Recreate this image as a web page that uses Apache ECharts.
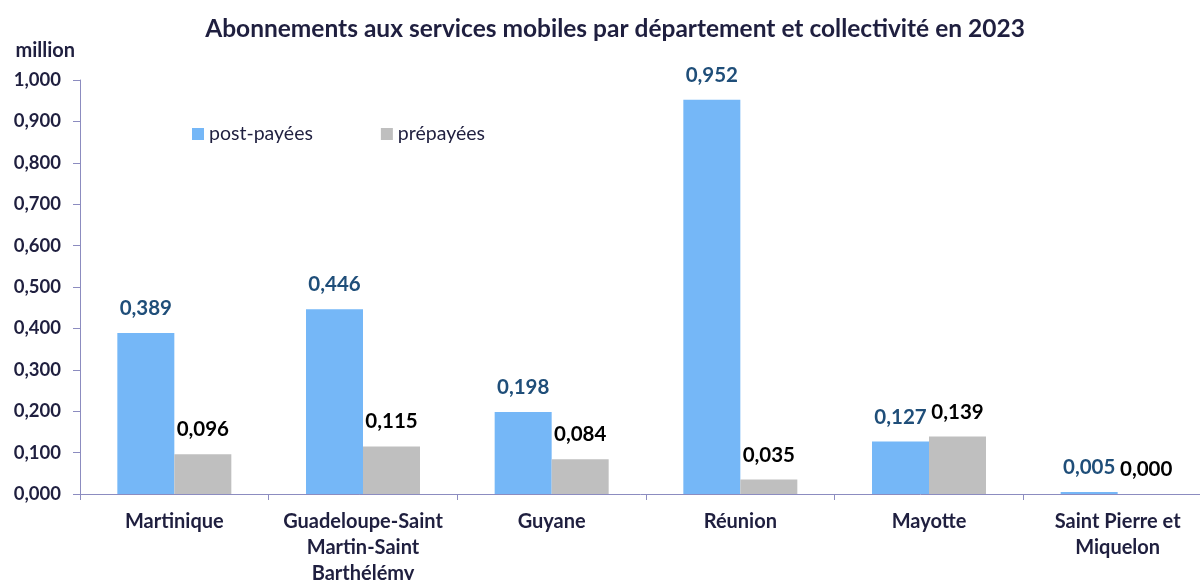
<!DOCTYPE html>
<html><head><meta charset="utf-8">
<script src="https://cdn.jsdelivr.net/npm/echarts@6/dist/echarts.min.js"></script>
<style>html,body{margin:0;padding:0;background:#fff}#c{width:1200px;height:580px}</style>
</head><body><div id="c"></div>
<script>
const categories = ["Martinique", "Guadeloupe-Saint\nMartin-Saint\nBarthélémy", "Guyane", "Réunion", "Mayotte", "Saint Pierre et\nMiquelon"];
const postPayees = [0.389, 0.446, 0.198, 0.952, 0.127, 0.005];
const prepayees = [0.096, 0.115, 0.084, 0.035, 0.139, 0.000];
const seriesNames = ["post-payées", "prépayées"];
const titleText = "Abonnements aux services mobiles par département et collectivité en 2023";
const unitLabel = "million";

const FONT = 'Lato, "Open Sans", sans-serif';
const TXT = '#1F1F3F';
const fmt = v => Number(v).toFixed(3).replace('.', ',');
const chart = echarts.init(document.getElementById('c'));
chart.setOption({
  animation: false,
  textStyle: { fontFamily: FONT },
  title: { text: titleText, left: 610, textAlign: 'center', top: 12,
    textStyle: { fontFamily: FONT, fontSize: 24.5, fontWeight: 'bold', color: TXT } },
  legend: { left: 187, top: 119, itemWidth: 12, itemHeight: 12, itemGap: 68, icon: 'rect',
    textStyle: { fontFamily: FONT, fontSize: 19.5, color: TXT } },
  grid: { left: 80, top: 80, right: -12, bottom: 86, containLabel: false, outerBoundsMode: 'none' },
  xAxis: { type: 'category', data: categories,
    axisLine: { lineStyle: { color: '#8C8CC0', width: 1 } },
    axisTick: { show: true, length: 6, inside: false, lineStyle: { color: '#8C8CC0' } },
    axisLabel: { fontFamily: FONT, fontSize: 20, fontWeight: 'bold', color: TXT, margin: 15, lineHeight: 26, interval: 0 } },
  yAxis: { type: 'value', min: 0, max: 1, interval: 0.1, name: unitLabel,
    nameLocation: 'end', nameGap: 19,
    nameTextStyle: { fontFamily: FONT, fontSize: 20, fontWeight: 'bold', color: TXT, align: 'right', padding: [0, 5, 0, 0] },
    splitLine: { show: false },
    axisLine: { show: true, lineStyle: { color: '#8C8CC0', width: 1 } },
    axisTick: { show: true, length: 7, lineStyle: { color: '#8C8CC0' } },
    axisLabel: { fontFamily: FONT, fontSize: 18.5, fontWeight: 'bold', color: TXT, margin: 19, formatter: fmt } },
  series: [
    { name: seriesNames[0], type: 'bar', data: postPayees, barWidth: 57, barGap: '0%',
      itemStyle: { color: '#75B7F7' },
      label: { show: true, position: 'top', distance: 14, formatter: p => fmt(p.value),
        fontFamily: FONT, fontSize: 20.5, fontWeight: 'bold', color: '#1F4E79' } },
    { name: seriesNames[1], type: 'bar', data: prepayees, barWidth: 57, barGap: '0%',
      itemStyle: { color: '#BFBFBF' },
      label: { show: true, position: 'top', distance: 14, formatter: p => fmt(p.value),
        fontFamily: FONT, fontSize: 20.5, fontWeight: 'bold', color: '#000000' } }
  ]
});
</script></body></html>
